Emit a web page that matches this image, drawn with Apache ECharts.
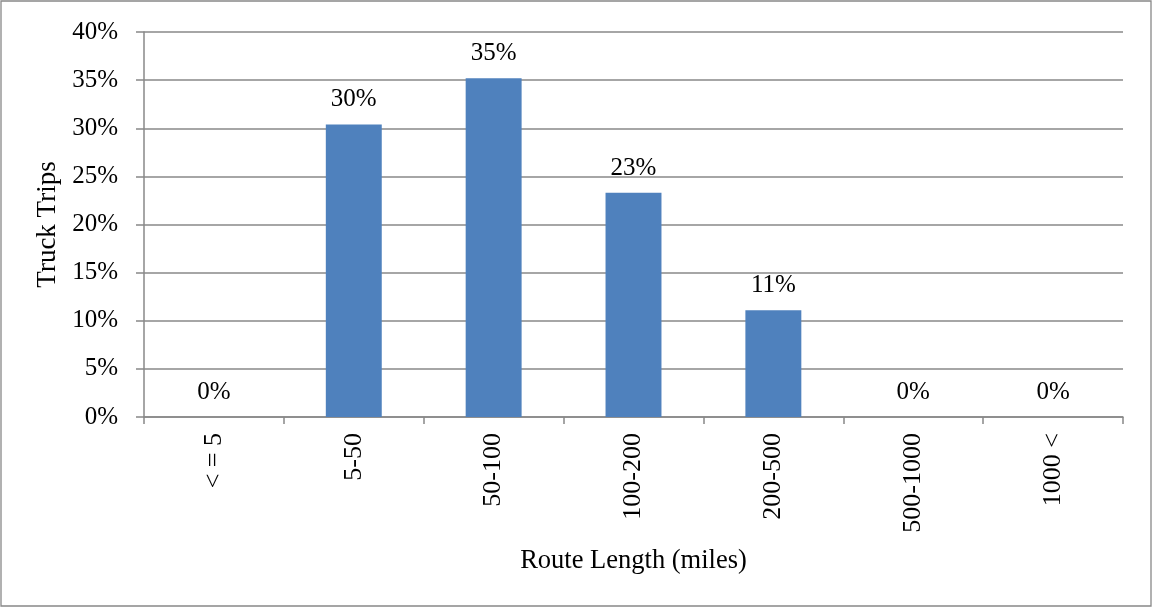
<!DOCTYPE html>
<html>
<head>
<meta charset="utf-8">
<title>Truck Trips by Route Length</title>
<script src="https://cdn.jsdelivr.net/npm/echarts@6/dist/echarts.min.js"></script>
<style>
  html, body { margin: 0; padding: 0; background: #fff; }
  #chart { width: 1154px; height: 607px; }
</style>
</head>
<body>
<div id="chart"></div>
<script>
// Route length bins (miles) and share of truck trips, in percent
const categories = ['< = 5', '5-50', '50-100', '100-200', '200-500', '500-1000', '1000 <'];
const tripShare = [0, 30.4, 35.2, 23.3, 11.1, 0, 0];
const yAxisRange = { min: 0, max: 40, step: 5 };
const xAxisTitle = 'Route Length (miles)';
const yAxisTitle = 'Truck Trips';

const FONT = "'Liberation Serif', 'Times New Roman', serif";
const GRID_GREY = '#888888';

const chart = echarts.init(document.getElementById('chart'), null, { renderer: 'canvas' });

chart.setOption({
  backgroundColor: '#ffffff',
  animation: false,
  textStyle: { fontFamily: FONT, color: '#000' },
  graphic: [{
    type: 'rect',
    shape: { x: 1, y: 1, width: 1150, height: 605 },
    style: { fill: 'none', stroke: GRID_GREY, lineWidth: 1.3 },
    silent: true,
    z: -1
  }],
  grid: {
    left: 144, right: 31, top: 32, bottom: 190,
    containLabel: false,
    outerBoundsMode: 'none'
  },
  xAxis: {
    type: 'category',
    data: categories,
    boundaryGap: true,
    name: xAxisTitle,
    nameLocation: 'middle',
    nameGap: 131,
    nameTextStyle: { fontFamily: FONT, fontSize: 26.5, color: '#000' },
    axisLine: { show: true, lineStyle: { color: GRID_GREY, width: 1.5 } },
    axisTick: { show: true, length: 7, alignWithLabel: false, lineStyle: { color: GRID_GREY, width: 1.5 } },
    axisLabel: {
      rotate: 90,
      margin: 16,
      interval: 0,
      fontFamily: FONT,
      fontSize: 26,
      color: '#000'
    },
    splitLine: { show: false }
  },
  yAxis: {
    type: 'value',
    min: yAxisRange.min,
    max: yAxisRange.max,
    interval: yAxisRange.step,
    name: yAxisTitle,
    nameLocation: 'middle',
    nameGap: 71,
    nameTextStyle: { fontFamily: FONT, fontSize: 27, color: '#000' },
    axisLine: { show: true, lineStyle: { color: GRID_GREY, width: 1.5 } },
    axisTick: { show: true, length: 8, lineStyle: { color: GRID_GREY, width: 1.5 } },
    axisLabel: {
      margin: 26,
      fontFamily: FONT,
      fontSize: 25,
      color: '#000',
      formatter: '{value}%'
    },
    splitLine: { show: true, lineStyle: { color: GRID_GREY, width: 1.5 } }
  },
  series: [{
    type: 'bar',
    data: tripShare,
    barWidth: '40%',
    itemStyle: { color: '#4F81BD' },
    label: {
      show: true,
      position: 'top',
      distance: 12,
      fontFamily: FONT,
      fontSize: 25,
      color: '#000',
      formatter: p => Math.round(p.value) + '%'
    }
  }]
});
</script>
</body>
</html>
